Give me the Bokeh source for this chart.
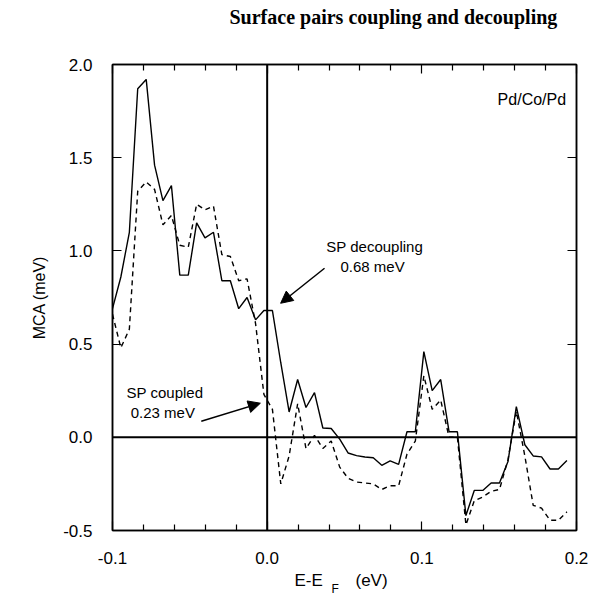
from bokeh.plotting import figure
from bokeh.layouts import column
from bokeh.models import (Range1d, LinearAxis, FixedTicker, Span, Label, Arrow,
                          NormalHead, NumeralTickFormatter)
from bokeh.core.properties import value
from bokeh.embed import file_html
from bokeh.resources import INLINE

# ---- data ----
energy = [-0.1000, -0.0946, -0.0891, -0.0837, -0.0782, -0.0728, -0.0674, -0.0619,
          -0.0565, -0.0510, -0.0456, -0.0402, -0.0347, -0.0293, -0.0238, -0.0184,
          -0.0130, -0.0075, -0.0021, 0.0034, 0.0088, 0.0142, 0.0197, 0.0251,
          0.0306, 0.0360, 0.0414, 0.0469, 0.0523, 0.0578, 0.0632, 0.0686,
          0.0741, 0.0795, 0.0850, 0.0904, 0.0958, 0.1013, 0.1067, 0.1122,
          0.1176, 0.1230, 0.1285, 0.1339, 0.1394, 0.1448, 0.1502, 0.1557,
          0.1611, 0.1666, 0.1720, 0.1774, 0.1829, 0.1883, 0.1938]

mca_decoupled = [0.69, 0.86, 1.10, 1.87, 1.92, 1.46, 1.27, 1.35,
                 0.87, 0.87, 1.15, 1.07, 1.10, 0.84, 0.84, 0.69,
                 0.75, 0.63, 0.68, 0.68, 0.40, 0.136, 0.31, 0.16,
                 0.24, 0.05, 0.047, -0.01, -0.084, -0.098, -0.106, -0.11,
                 -0.15, -0.127, -0.145, 0.03, 0.03, 0.46, 0.25, 0.31,
                 0.03, 0.03, -0.42, -0.285, -0.285, -0.245, -0.245, -0.13,
                 0.165, -0.04, -0.10, -0.105, -0.17, -0.17, -0.124]

mca_coupled = [0.66, 0.48, 0.58, 1.32, 1.37, 1.33, 1.14, 1.19,
               1.03, 1.02, 1.25, 1.22, 1.24, 0.98, 0.97, 0.84,
               0.85, 0.61, 0.23, 0.15, -0.25, -0.10, 0.18, -0.06,
               0.01, -0.06, -0.02, -0.16, -0.22, -0.24, -0.245, -0.25,
               -0.28, -0.26, -0.26, -0.09, -0.02, 0.33, 0.15, 0.20,
               0.0, 0.0, -0.47, -0.34, -0.32, -0.29, -0.28, -0.12,
               0.14, -0.10, -0.365, -0.38, -0.445, -0.445, -0.40]

x_major = [-0.1, 0.0, 0.1, 0.2]
x_minor = [-0.08, -0.06, -0.04, -0.02, 0.02, 0.04, 0.06, 0.08,
           0.12, 0.14, 0.16, 0.18]
y_major = [-0.5, 0.0, 0.5, 1.0, 1.5, 2.0]

title_text = "Surface pairs coupling and decoupling"
SANS = "Liberation Sans"
W = 590
FRAME_L, FRAME_R = 112, 576   # frame edges of the main plot (pixels)

def blank(h):
    # strip whose frame is aligned with the main plot's frame by the column layout
    f = figure(width=W, height=h, x_range=Range1d(FRAME_L, FRAME_R),
               y_range=Range1d(h, 0),
               output_backend="svg", toolbar_location=None,
               x_axis_location=None, y_axis_location=None,
               min_border=0, min_border_left=FRAME_L, min_border_right=W - FRAME_R,
               min_border_top=0, min_border_bottom=0)
    f.grid.visible = False
    f.outline_line_color = None
    f.background_fill_color = "white"
    f.border_fill_color = "white"
    return f

# ---- title strip ----
t = blank(34)
t.text(x=[229], y=[16], text=[title_text], text_font=value("Liberation Serif"),
       text_font_style="bold", text_font_size=value("20px"),
       text_baseline="middle", text_align="left", text_color="black")

# ---- main plot ----
p = figure(width=W, height=533,
           x_range=Range1d(-0.1, 0.2), y_range=Range1d(-0.5, 2.0),
           output_backend="svg", toolbar_location=None,
           min_border_left=FRAME_L, min_border_right=W - FRAME_R,
           min_border_top=30, min_border_bottom=37)
p.grid.visible = False
p.outline_line_color = "black"
p.outline_line_width = 1.5
p.background_fill_color = "white"
p.border_fill_color = "white"

xt = FixedTicker(ticks=x_major, minor_ticks=x_minor)
yt = FixedTicker(ticks=y_major, minor_ticks=[])

def style_axis(ax, ticker, show_labels):
    ax.ticker = ticker
    ax.axis_line_color = "black"
    ax.axis_line_width = 1.5
    ax.major_tick_in = 9
    ax.major_tick_out = 0
    ax.minor_tick_in = 6
    ax.minor_tick_out = 0
    ax.major_tick_line_color = "black"
    ax.minor_tick_line_color = "black"
    ax.major_tick_line_width = 1.2
    ax.minor_tick_line_width = 1.2
    ax.formatter = NumeralTickFormatter(format="0.0")
    ax.major_label_text_font = SANS
    ax.major_label_text_font_size = "17px" if show_labels else "0px"
    ax.major_label_text_color = "black" if show_labels else None
    ax.major_label_standoff = 20 if show_labels else 0

style_axis(p.xaxis[0], xt, True)
p.xaxis[0].major_label_standoff = 21
style_axis(p.yaxis[0], yt, True)
p.yaxis[0].axis_label = "MCA (meV)"
p.yaxis[0].axis_label_text_font = SANS
p.yaxis[0].axis_label_text_font_size = "16px"
p.yaxis[0].axis_label_text_font_style = "normal"
p.yaxis[0].axis_label_text_color = "black"
p.yaxis[0].axis_label_standoff = 12

top = LinearAxis()
style_axis(top, xt, False)
p.add_layout(top, "above")
right = LinearAxis()
style_axis(right, yt, False)
p.add_layout(right, "right")

# zero lines
p.add_layout(Span(location=0, dimension="width", line_color="black", line_width=2))
p.add_layout(Span(location=0, dimension="height", line_color="black", line_width=2))

# curves
p.line(energy, mca_decoupled, line_color="black", line_width=1.4)
p.line(energy, mca_coupled, line_color="black", line_width=1.4, line_dash="5 4")

# in-plot texts
def txt(x, y, s, size="15px", align="center"):
    p.add_layout(Label(x=x, y=y, text=s, text_font=SANS, text_font_size=size,
                       text_baseline="middle", text_align=align, text_color="black"))

txt(0.149, 1.81, "Pd/Co/Pd", "16px", "left")
txt(0.0695, 1.023, "SP decoupling", "15px")
txt(0.0695, 0.916, "0.68  meV", "15px")
txt(-0.0661, 0.242, "SP coupled", "15px")
txt(-0.0661, 0.134, "0.23  meV", "15px")

# arrows
p.add_layout(Arrow(end=NormalHead(size=12, fill_color="black", line_color="black"),
                   x_start=0.0371, y_start=0.907, x_end=0.0087, y_end=0.719,
                   line_color="black", line_width=1.5))
p.add_layout(Arrow(end=NormalHead(size=12, fill_color="black", line_color="black"),
                   x_start=-0.0426, y_start=0.086, x_end=-0.0044, y_end=0.183,
                   line_color="black", line_width=1.5))

# ---- x-axis label strip: E-E_F (eV) ----
xl = blank(32)
xl.text(x=[294, 355], y=[13, 13], text=["E-E", "(eV)"], text_font=value(SANS),
        text_font_size=value("17px"), text_baseline="middle", text_align="left",
        text_color="black")
xl.text(x=[331], y=[21], text=["F"], text_font=value(SANS),
        text_font_size=value("12px"), text_baseline="middle", text_align="left",
        text_color="black")

layout = column(t, p, xl, spacing=0)
open("out.html", "w").write(file_html(layout, INLINE))
